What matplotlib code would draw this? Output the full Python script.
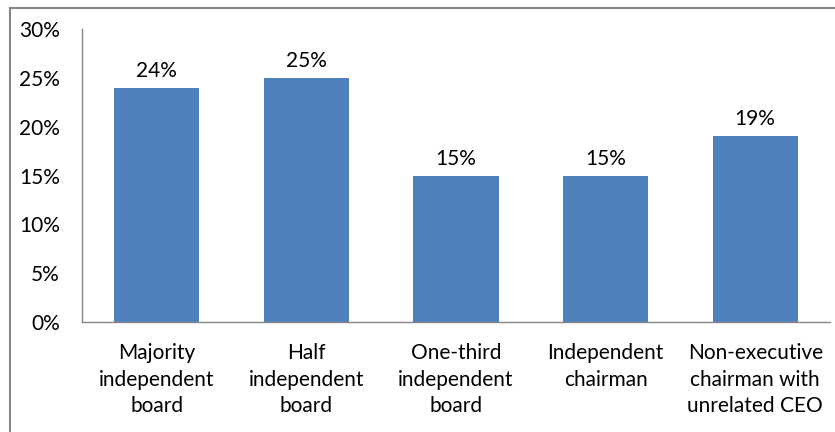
import matplotlib
matplotlib.use("Agg")
import matplotlib.pyplot as plt
from matplotlib.patches import Rectangle
from matplotlib.ticker import FuncFormatter

# Board structure categories and shares (%)
categories = [
    "Majority\nindependent\nboard",
    "Half\nindependent\nboard",
    "One-third\nindependent\nboard",
    "Independent\nchairman",
    "Non-executive\nchairman with\nunrelated CEO",
]
shares = [24, 25, 15, 15, 19]
yticks = [0, 5, 10, 15, 20, 25, 30]

plt.rcParams['font.family'] = ['Lato', 'DejaVu Sans']
FS = 15

W, H = 835, 432
fig = plt.figure(figsize=(W / 100, H / 100), dpi=100)
ax = fig.add_axes([82 / W, 1 - 322 / H, (830 - 82) / W, (322 - 29) / H])

x = range(len(categories))
ax.bar(x, shares, width=0.57, color='#4F81BD')
for xi, v in zip(x, shares):
    ax.annotate(f'{v}%', (xi, v), xytext=(0, 5), textcoords='offset points',
                ha='center', va='bottom', fontsize=FS, color='black')

ax.set_xlim(-0.5, len(categories) - 0.5)
ax.set_ylim(0, 30)
ax.set_yticks(yticks)
ax.yaxis.set_major_formatter(FuncFormatter(lambda v, _: f'{v:.0f}%'))
ax.set_xticks(list(x))
ax.set_xticklabels(categories, fontsize=FS, linespacing=1.42)
ax.tick_params(axis='y', length=0, pad=16, labelsize=FS)
ax.tick_params(axis='x', length=0, pad=15)

for side in ('top', 'right'):
    ax.spines[side].set_visible(False)
for side in ('left', 'bottom'):
    ax.spines[side].set_color('#868686')
    ax.spines[side].set_linewidth(1.0)

# chart area border (runs off the right and bottom edges)
fig.patches.append(Rectangle((10 / W, -0.1), 1.1, 1 - 8 / H + 0.1,
                             transform=fig.transFigure, fill=False,
                             edgecolor='#868686', linewidth=1.5))

fig.savefig('out.png', dpi=100)
